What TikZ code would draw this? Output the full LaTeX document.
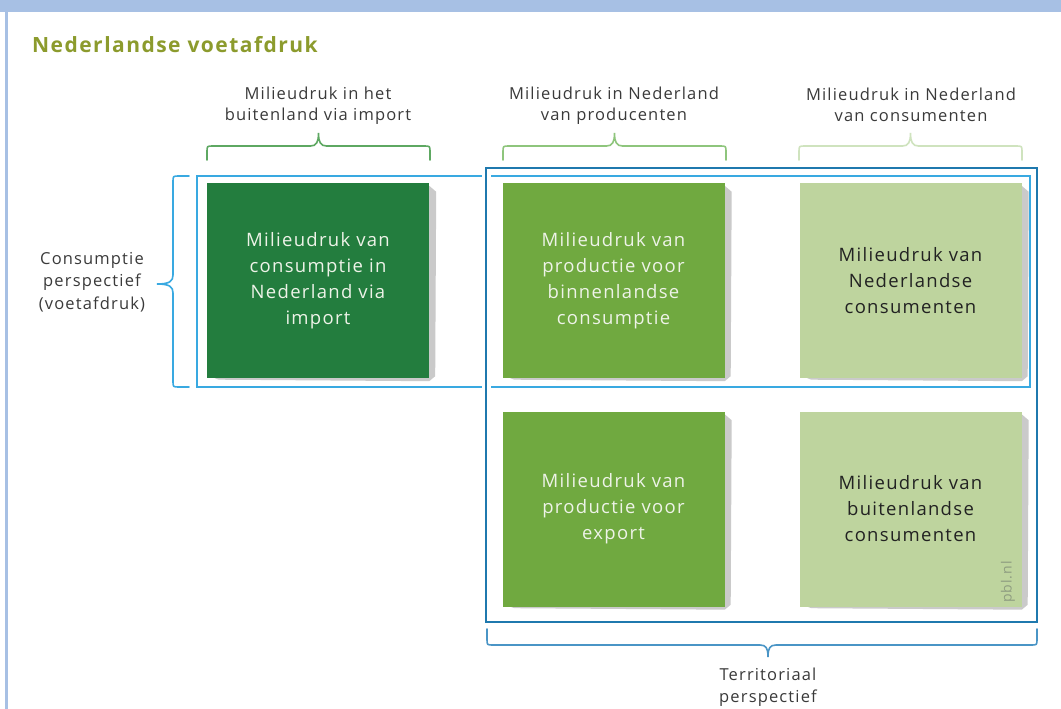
\documentclass[tikz,border=0pt]{standalone}
\usepackage{fontspec}
\setmainfont[LetterSpace=7]{Open Sans}
\usetikzlibrary{calc}
\pgfdeclarelayer{bottom}
\pgfdeclarelayer{shadows}
\pgfsetlayers{bottom,shadows,main}
\definecolor{topband}{HTML}{A7C0E4}
\definecolor{titleolive}{HTML}{8C9B2D}
\definecolor{dkgreen}{HTML}{237D3E}
\definecolor{mdgreen}{HTML}{70A940}
\definecolor{ltgreen}{HTML}{BED49E}
\definecolor{brA}{HTML}{5EA862}
\definecolor{brB}{HTML}{8EC57C}
\definecolor{brC}{HTML}{CFE3BE}
\definecolor{lblue}{HTML}{39A9E1}
\definecolor{dblue}{HTML}{1F79AE}
\definecolor{bblue}{HTML}{4A95C6}
\definecolor{txtgray}{HTML}{3A3A3A}
\definecolor{boxdark}{HTML}{222222}
\definecolor{boxlight}{HTML}{EEF3E8}
\definecolor{shadowgray}{HTML}{CACACA}
\definecolor{pblgray}{HTML}{8E9C80}
\newcommand\tbrace[5]{%
  \draw[#1, bracestyle] (#2,#5) -- (#2,{#4+6}) .. controls (#2,#4) .. ({#2+6},#4)
    -- ({(#2+#3)/2-8},#4) .. controls ({(#2+#3)/2-2},#4) and ({(#2+#3)/2},{#4-4}) .. ({(#2+#3)/2},{#4-13})
    .. controls ({(#2+#3)/2},{#4-4}) and ({(#2+#3)/2+2},#4) .. ({(#2+#3)/2+8},#4)
    -- ({#3-6},#4) .. controls (#3,#4) .. (#3,{#4+6}) -- (#3,#5);}
\newcommand\boxshadow[1]{%
  \fill[shadowgray] ($(#1.north east)+(0,3)$) -- ($(#1.north east)+(7,9)$)
    -- ($(#1.south east)+(6,-2)$) -- ($(#1.south east)+(0,3)$)
    -- ($(#1.south west)+(12,1.5)$) -- ($(#1.south west)+(8,0)$) -- cycle;}
\tikzset{
  greenbox/.style={minimum width=222pt, minimum height=195pt, inner sep=0pt,
    align=center, font=\fontsize{18.5}{26}\selectfont},
  headlabel/.style={align=center, text=txtgray, inner sep=0pt,
    font=\fontsize{16.5}{21}\selectfont},
  sidelabel/.style={align=center, text=txtgray, inner sep=0pt,
    font=\fontsize{16.5}{22.5}\selectfont},
  bracestyle/.style={line width=1.6pt, line cap=round},
  lightframe/.style={draw=lblue, line width=2.6pt},
  darkframe/.style={draw=dblue, line width=2.8pt},
}
\begin{document}
\begin{tikzpicture}[x=1pt,y=-1pt]
\useasboundingbox (0,0) rectangle (1061,709);
\begin{pgfonlayer}{bottom}
\fill[white] (0,0) rectangle (1061,709);
\end{pgfonlayer}
% frame of the page
\fill[topband] (0,0) rectangle (1061,12);
\fill[topband] (5,0) rectangle (8,709);
% title
\node[anchor=base west, inner sep=0pt, text=titleolive,
  font=\fontsize{21}{25}\selectfont\bfseries] (title) at (32,53) {Nederlandse voetafdruk};
% column labels
\node[headlabel] (h1) at (318,106) {Milieudruk in het\\buitenland via import};
\node[headlabel] (h2) at (614,106) {Milieudruk in Nederland\\van producenten};
\node[headlabel] (h3) at (911,105) {Milieudruk in Nederland\\van consumenten};
\tbrace{brA}{207}{430}{146}{160}
\tbrace{brB}{503}{726}{146}{160}
\tbrace{brC}{799}{1022}{146}{160}
% boxes
\node[greenbox, fill=dkgreen, text=boxlight] (b1) at (318,280.5) {Milieudruk van\\consumptie in\\Nederland via\\import};
\node[greenbox, fill=mdgreen, text=boxlight] (b2) at (613.5,280.5) {Milieudruk van\\productie voor\\binnenlandse\\consumptie};
\node[greenbox, fill=ltgreen, text=boxdark] (b3) at (910.5,280.5) {Milieudruk van\\Nederlandse\\consumenten};
\node[greenbox, fill=mdgreen, text=boxlight] (b4) at (613.5,509) {Milieudruk van\\productie voor\\export};
\node[greenbox, fill=ltgreen, text=boxdark] (b5) at (910.5,509) {Milieudruk van\\buitenlandse\\consumenten};
\begin{pgfonlayer}{shadows}
  \boxshadow{b1}\boxshadow{b2}\boxshadow{b3}\boxshadow{b4}\boxshadow{b5}
\end{pgfonlayer}
\node[rotate=90, inner sep=0pt, text=pblgray, font=\fontsize{14}{14}\selectfont] (pbl) at (1008,582) {pbl.nl};
% perspective frames
\draw[lightframe] (197,176) rectangle (1030,387);
\draw[white, line width=9pt] (486,168) rectangle (1037,622);
\draw[darkframe] (486,168) rectangle (1037,622);
% consumption perspective
\node[sidelabel] (cons) at (92,282) {Consumptie\\perspectief\\(voetafdruk)};
\draw[lblue, bracestyle] (189,176) -- (179,176) .. controls (173,176) .. (173,182)
  -- (173,275) .. controls (173,281) and (170,284) .. (157,284)
  .. controls (170,284) and (173,287) .. (173,293)
  -- (173,381) .. controls (173,387) .. (179,387) -- (189,387);
% territorial perspective
\draw[bblue, bracestyle] (487,629) -- (487,639) .. controls (487,645) .. (493,645)
  -- (760,645) .. controls (766,645) and (768,648) .. (768,657)
  .. controls (768,648) and (770,645) .. (776,645)
  -- (1031,645) .. controls (1037,645) .. (1037,639) -- (1037,629);
\node[sidelabel, font=\fontsize{16.5}{22}\selectfont] (terr) at (768,687) {Territoriaal\\perspectief};
\end{tikzpicture}
\end{document}
